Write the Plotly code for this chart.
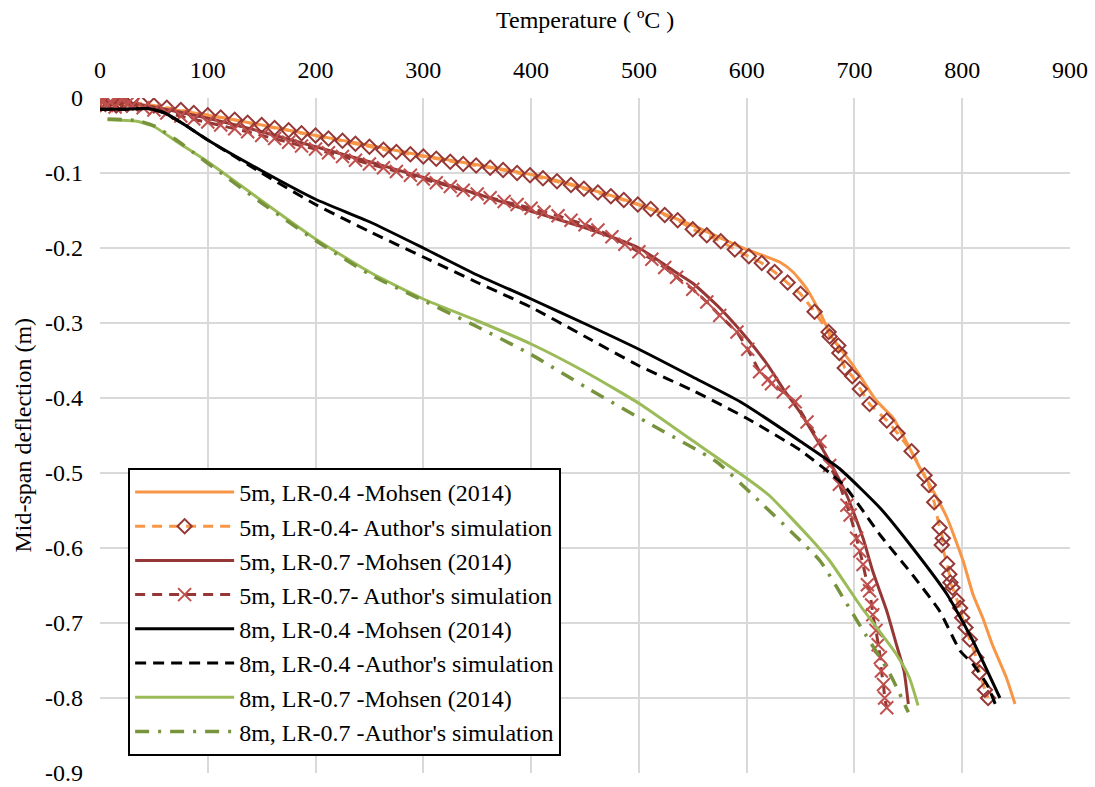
import plotly.graph_objects as go

# ---- data (Temperature in °C, mid-span deflection in m) ----
t_5m04_mohsen = [0, 50, 100, 150, 200, 250, 300, 350, 400, 450, 500, 550, 600, 631, 643, 656, 668, 680, 699, 720, 736, 761, 770, 786, 801, 810, 819, 828, 841, 849]
d_5m04_mohsen = [-0.005, -0.012, -0.023, -0.036, -0.05, -0.063, -0.077, -0.089, -0.102, -0.12, -0.142, -0.17, -0.202, -0.219, -0.232, -0.255, -0.286, -0.321, -0.357, -0.403, -0.427, -0.494, -0.516, -0.56, -0.618, -0.662, -0.693, -0.729, -0.773, -0.808]

t_5m04_author = [0, 5, 10, 15, 20, 25, 38, 50, 62, 75, 87, 100, 112, 125, 137, 150, 162, 175, 187, 200, 212, 225, 237, 250, 263, 275, 288, 300, 312, 325, 337, 349, 362, 374, 387, 399, 411, 424, 437, 449, 462, 474, 486, 499, 511, 524, 536, 550, 563, 576, 589, 602, 614, 626, 638, 650, 663, 676, 677, 685, 686, 691, 698, 705, 714, 730, 740, 753, 765, 769, 774, 779, 782, 781, 786, 788, 789, 791, 795, 798, 800, 803, 807, 813, 816, 821, 824]
d_5m04_author = [-0.005, -0.008, -0.006, -0.01, -0.007, -0.009, -0.007, -0.01, -0.013, -0.016, -0.02, -0.023, -0.026, -0.029, -0.033, -0.036, -0.04, -0.043, -0.047, -0.05, -0.054, -0.057, -0.061, -0.065, -0.069, -0.072, -0.075, -0.078, -0.081, -0.085, -0.088, -0.09, -0.093, -0.096, -0.1, -0.103, -0.107, -0.111, -0.116, -0.121, -0.126, -0.131, -0.136, -0.142, -0.148, -0.156, -0.163, -0.175, -0.183, -0.191, -0.202, -0.211, -0.22, -0.232, -0.246, -0.261, -0.285, -0.312, -0.318, -0.33, -0.34, -0.36, -0.371, -0.388, -0.408, -0.43, -0.447, -0.471, -0.503, -0.516, -0.539, -0.573, -0.587, -0.596, -0.621, -0.635, -0.646, -0.653, -0.67, -0.68, -0.693, -0.706, -0.722, -0.746, -0.766, -0.789, -0.8]

t_5m07_mohsen = [0, 25, 50, 100, 150, 200, 250, 300, 350, 400, 450, 500, 535, 550, 575, 600, 620, 634, 650, 674, 693, 708, 717, 730, 739, 746, 750]
d_5m07_mohsen = [-0.005, -0.006, -0.012, -0.027, -0.045, -0.065, -0.085, -0.106, -0.128, -0.151, -0.173, -0.2, -0.233, -0.247, -0.28, -0.32, -0.357, -0.388, -0.42, -0.477, -0.53, -0.587, -0.631, -0.684, -0.729, -0.764, -0.808]

t_5m07_author = [0, 3, 6, 10, 14, 18, 20, 22, 25, 30, 40, 50, 62, 75, 87, 100, 112, 125, 137, 150, 162, 175, 187, 200, 212, 225, 237, 250, 263, 275, 288, 300, 312, 325, 337, 350, 362, 375, 387, 400, 412, 425, 437, 450, 462, 475, 487, 500, 512, 524, 535, 550, 563, 575, 591, 601, 612, 620, 623, 634, 645, 656, 668, 677, 686, 693, 696, 702, 705, 708, 712, 714, 716, 717, 720, 722, 724, 725, 727, 728, 730]
d_5m07_author = [-0.008, -0.003, -0.01, -0.005, -0.012, 0.003, -0.002, 0.002, -0.008, -0.01, -0.013, -0.016, -0.02, -0.024, -0.028, -0.032, -0.036, -0.041, -0.045, -0.05, -0.054, -0.059, -0.064, -0.068, -0.073, -0.078, -0.083, -0.088, -0.093, -0.098, -0.103, -0.108, -0.113, -0.118, -0.123, -0.128, -0.133, -0.138, -0.142, -0.147, -0.152, -0.157, -0.163, -0.169, -0.176, -0.185, -0.195, -0.205, -0.215, -0.226, -0.239, -0.255, -0.272, -0.29, -0.312, -0.335, -0.365, -0.375, -0.381, -0.392, -0.405, -0.432, -0.458, -0.49, -0.515, -0.543, -0.556, -0.587, -0.604, -0.622, -0.649, -0.657, -0.676, -0.689, -0.71, -0.729, -0.746, -0.764, -0.782, -0.8, -0.813]

t_8m04_mohsen = [0, 20, 45, 60, 80, 100, 150, 200, 250, 300, 350, 400, 450, 500, 550, 594, 650, 686, 724, 754, 786, 810, 835]
d_8m04_mohsen = [-0.015, -0.015, -0.014, -0.02, -0.037, -0.056, -0.097, -0.135, -0.165, -0.2, -0.236, -0.268, -0.301, -0.335, -0.372, -0.405, -0.458, -0.494, -0.547, -0.6, -0.662, -0.724, -0.8]

t_8m04_author = [0, 20, 45, 60, 80, 100, 150, 200, 250, 300, 350, 400, 450, 500, 550, 600, 650, 690, 724, 754, 779, 798, 810, 823, 832]
d_8m04_author = [-0.015, -0.015, -0.014, -0.02, -0.037, -0.056, -0.1, -0.142, -0.178, -0.212, -0.246, -0.279, -0.318, -0.357, -0.39, -0.427, -0.47, -0.516, -0.583, -0.636, -0.684, -0.737, -0.755, -0.782, -0.813]

t_8m07_mohsen = [7, 34, 50, 71, 100, 150, 200, 250, 300, 350, 400, 450, 501, 547, 600, 621, 659, 677, 705, 739, 751, 759]
d_8m07_mohsen = [-0.029, -0.031, -0.038, -0.058, -0.085, -0.137, -0.188, -0.232, -0.268, -0.297, -0.328, -0.365, -0.408, -0.454, -0.507, -0.53, -0.587, -0.617, -0.676, -0.742, -0.773, -0.81]

t_8m07_author = [7, 34, 50, 71, 100, 150, 200, 250, 300, 350, 400, 450, 507, 572, 609, 668, 691, 711, 733, 750]
d_8m07_author = [-0.028, -0.03, -0.037, -0.056, -0.087, -0.14, -0.19, -0.235, -0.27, -0.305, -0.342, -0.385, -0.432, -0.485, -0.534, -0.617, -0.67, -0.717, -0.768, -0.819]

x_ticks = [0, 100, 200, 300, 400, 500, 600, 700, 800, 900]
y_ticks = [0, -0.1, -0.2, -0.3, -0.4, -0.5, -0.6, -0.7, -0.8, -0.9]
y_ticktext = ["0", "-0.1", "-0.2", "-0.3", "-0.4", "-0.5", "-0.6", "-0.7", "-0.8", "-0.9"]
x_title = "Temperature ( ºC )"
y_title = "Mid-span deflection (m)"

ORANGE = "#F79646"
DARKRED = "#953735"
RED = "#C0504D"
GREEN = "#9BBB59"
DKGREEN = "#77933C"
FONT = "Liberation Serif"

SM = 0.5
fig = go.Figure()
fig.add_trace(go.Scatter(x=t_5m04_mohsen, y=d_5m04_mohsen, mode="lines",
                         name="5m, LR-0.4 -Mohsen (2014)",
                         line=dict(color=ORANGE, width=3, shape="spline", smoothing=SM)))
fig.add_trace(go.Scatter(x=t_5m04_author, y=d_5m04_author, mode="lines+markers",
                         name="5m, LR-0.4- Author's simulation",
                         line=dict(color=ORANGE, width=3, dash="10px,7px"),
                         marker=dict(symbol="diamond-open", size=11, color=DARKRED,
                                     line=dict(color=DARKRED, width=2))))
fig.add_trace(go.Scatter(x=t_5m07_mohsen, y=d_5m07_mohsen, mode="lines",
                         name="5m, LR-0.7 -Mohsen (2014)",
                         line=dict(color=DARKRED, width=3, shape="spline", smoothing=SM)))
fig.add_trace(go.Scatter(x=t_5m07_author, y=d_5m07_author, mode="lines+markers",
                         name="5m, LR-0.7- Author's simulation",
                         line=dict(color=DARKRED, width=3, dash="10px,7px"),
                         marker=dict(symbol="x-thin-open", size=13, color=RED,
                                     line=dict(color=RED, width=2))))
fig.add_trace(go.Scatter(x=t_8m04_mohsen, y=d_8m04_mohsen, mode="lines",
                         name="8m, LR-0.4 -Mohsen (2014)",
                         line=dict(color="black", width=3, shape="spline", smoothing=SM)))
fig.add_trace(go.Scatter(x=t_8m04_author, y=d_8m04_author, mode="lines",
                         name="8m, LR-0.4 -Author's simulation",
                         line=dict(color="black", width=3, dash="11px,7px", shape="spline", smoothing=SM)))
fig.add_trace(go.Scatter(x=t_8m07_mohsen, y=d_8m07_mohsen, mode="lines",
                         name="8m, LR-0.7 -Mohsen (2014)",
                         line=dict(color=GREEN, width=3, shape="spline", smoothing=SM)))
fig.add_trace(go.Scatter(x=t_8m07_author, y=d_8m07_author, mode="lines",
                         name="8m, LR-0.7 -Author's simulation",
                         line=dict(color=DKGREEN, width=3.5, dash="14px,9px,3px,9px", shape="spline", smoothing=SM)))

fig.update_layout(
    width=1095, height=787,
    paper_bgcolor="white", plot_bgcolor="white",
    margin=dict(l=100, r=25, t=98, b=14),
    font=dict(family=FONT, size=24, color="black"),
    showlegend=True,
    legend=dict(x=0.029, y=0.452, xanchor="left", yanchor="top",
                bgcolor="white", bordercolor="black", borderwidth=2,
                font=dict(family=FONT, size=24, color="black"),
                itemwidth=99, tracegroupgap=0),
    xaxis=dict(side="top", range=[0, 900], tickvals=x_ticks,
               showgrid=True, gridcolor="#D9D9D9", gridwidth=2,
               zeroline=False, showline=False, ticks="", automargin=False,
               ticklabelstandoff=14, ticklabeloverflow="allow",
               tickfont=dict(family=FONT, size=24)),
    yaxis=dict(range=[-0.9, 0], tickvals=y_ticks, ticktext=y_ticktext,
               showgrid=True, gridcolor="#D9D9D9", gridwidth=2,
               zeroline=False, showline=False, ticks="", automargin=False,
               ticklabelstandoff=16, ticklabeloverflow="allow",
               tickfont=dict(family=FONT, size=24)),
    annotations=[
        dict(text=x_title, xref="paper", yref="paper", x=0.5, y=1.0, yshift=78,
             xanchor="center", yanchor="middle", showarrow=False,
             font=dict(family=FONT, size=24)),
        dict(text=y_title, xref="paper", yref="paper", x=0.0, xshift=-78, y=0.5,
             xanchor="center", yanchor="middle", textangle=-90, showarrow=False,
             font=dict(family=FONT, size=24)),
    ],
)

fig.write_html("out.html", config={"displayModeBar": False},
               post_script="document.body.style.margin='0';document.body.style.overflow='hidden';")
